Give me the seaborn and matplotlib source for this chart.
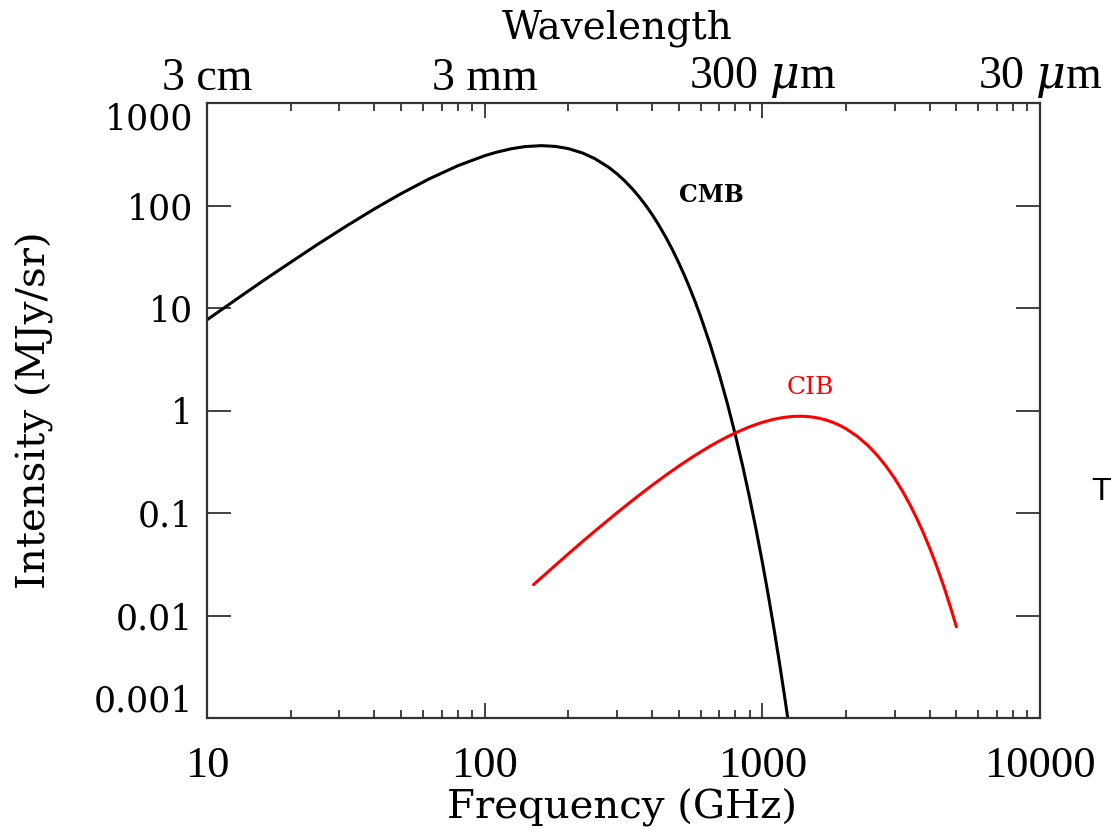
import matplotlib
matplotlib.use("Agg")
import matplotlib.pyplot as plt
from matplotlib.ticker import FixedLocator, FixedFormatter, NullFormatter
import pandas as pd
import seaborn as sns

# CMB spectrum (GHz, MJy/sr)
cmb_freq = [10, 13, 16, 20, 25, 32, 40, 50, 63, 80, 100, 110, 125, 140, 160,
            180, 200, 225, 250, 280, 300, 320, 340, 360, 380, 400, 420, 450,
            475, 500, 525, 550, 575, 600, 650, 700, 750, 800, 850, 900, 950,
            1000, 1050, 1100, 1150, 1200, 1250]
cmb_int = [7.66, 12.6, 18.6, 27.9, 41.7, 63.8, 92.3, 130.5, 181.4, 244.2, 306.0,
           330.4, 358.3, 375.7, 383.7, 377.0, 359.0, 325.6, 285.5, 235.4, 203.1,
           173.1, 145.8, 121.6, 100.5, 82.4, 67.05, 48.6, 36.81, 27.6, 20.59,
           15.25, 11.22, 8.20, 4.324, 2.24, 1.142, 0.574, 0.2856, 0.1405,
           0.06853, 0.0331, 0.0159, 0.00758, 0.00359, 0.00169, 0.000797]

# CIB spectrum (GHz, MJy/sr)
cib_freq = [150, 175, 200, 225, 250, 300, 350, 400, 450, 500, 550, 600, 650,
            700, 750, 800, 900, 1000, 1100, 1200, 1300, 1400, 1500, 1600, 1700,
            1800, 1900, 2000, 2200, 2400, 2600, 2800, 3000, 3200, 3400, 3600,
            3800, 4000, 4250, 4500, 4750, 5000]
cib_int = [0.0200, 0.0290, 0.0399, 0.0526, 0.0670, 0.1008, 0.1406, 0.1855,
           0.2346, 0.2866, 0.3406, 0.3954, 0.4501, 0.5039, 0.5558, 0.6052,
           0.6941, 0.7668, 0.8219, 0.8583, 0.8770, 0.8789, 0.8662, 0.8414,
           0.8066, 0.7642, 0.7160, 0.6649, 0.5585, 0.4558, 0.3627, 0.2826,
           0.2163, 0.1627, 0.1208, 0.0885, 0.0641, 0.0460, 0.0300, 0.0193,
           0.01229, 0.00775]

y_ticks = [1000, 100, 10, 1, 0.1, 0.01, 0.001]
y_labels = ["1000", "100", "10", "1", "0.1", "0.01", "0.001"]
x_ticks = [10, 100, 1000, 10000]
x_labels = ["10", "100", "1000", "10000"]
wl_labels = ["3 cm", "3 mm", r"300 $\mu$m", r"30 $\mu$m"]

sns.set_theme(style="white")
plt.rcParams["font.family"] = ["DejaVu Serif", "DejaVu Sans"]
plt.rcParams["mathtext.fontset"] = "dejavuserif"
plt.rcParams["text.color"] = "black"
plt.rcParams["axes.labelcolor"] = "black"
plt.rcParams["xtick.color"] = "black"
plt.rcParams["ytick.color"] = "black"

fig = plt.figure(figsize=(11.11, 8.32), dpi=100)
ax = fig.add_axes([207 / 1111, 1 - 718 / 832, 833 / 1111, 615 / 832])

cmb = pd.DataFrame({"freq": cmb_freq, "intensity": cmb_int})
cib = pd.DataFrame({"freq": cib_freq, "intensity": cib_int})
sns.lineplot(data=cmb, x="freq", y="intensity", color="black", lw=2.2,
             ax=ax, sort=True)
sns.lineplot(data=cib, x="freq", y="intensity", color="#ff0000", lw=2.2,
             ax=ax, sort=True)

ax.set_xscale("log")
ax.set_yscale("log")
ax.set_xlim(10, 10000)
ax.set_ylim(0.001, 1000)

spine_col = "#333333"
for s in ax.spines.values():
    s.set_visible(True)
    s.set_color(spine_col)
    s.set_linewidth(1.6)

minor_x = [m * 10 ** e for e in range(1, 4) for m in range(2, 10)]

ax.xaxis.set_major_locator(FixedLocator(x_ticks))
ax.xaxis.set_major_formatter(FixedFormatter(x_labels))
ax.xaxis.set_minor_locator(FixedLocator(minor_x))
ax.xaxis.set_minor_formatter(NullFormatter())
ax.yaxis.set_major_locator(FixedLocator(y_ticks))
ax.yaxis.set_major_formatter(FixedFormatter(y_labels))
ax.yaxis.set_minor_locator(FixedLocator([]))

ax.tick_params(axis="x", which="major", direction="in", length=11, width=1.3,
               color=spine_col, labelcolor="black", bottom=True, top=False,
               pad=20, labelsize=32, labelfontfamily="Liberation Serif")
ax.tick_params(axis="x", which="minor", direction="in", length=6, width=1.3,
               color=spine_col, bottom=True, top=False)
ax.tick_params(axis="y", which="major", direction="in", length=17, width=1.3,
               color=spine_col, labelcolor="black", left=True, right=True,
               pad=10, labelsize=25)

# keep the end labels of the intensity axis inside the frame height
yt = ax.yaxis.get_major_ticks()
yt[0].label1.set_va("top")
yt[-1].label1.set_va("bottom")

ax.set_xlabel("Frequency (GHz)", fontsize=29)
ax.xaxis.label.set_va("center")
ax.xaxis.set_label_coords(0.4982, (718 - 808) / 615)
ax.set_ylabel("Intensity (MJy/sr)", fontsize=29)
ax.yaxis.label.set_va("center")
ax.yaxis.set_label_coords((35 - 207) / 833, 0.5)

# Wavelength scale along the top edge
ax2 = ax.twiny()
ax2.set_xscale("log")
ax2.set_xlim(ax.get_xlim())
ax2.xaxis.set_major_locator(FixedLocator(x_ticks))
ax2.xaxis.set_major_formatter(FixedFormatter(wl_labels))
ax2.xaxis.set_minor_locator(FixedLocator(minor_x))
ax2.xaxis.set_minor_formatter(NullFormatter())
ax2.tick_params(axis="x", which="major", direction="in", length=11, width=1.3,
                color=spine_col, labelcolor="black", top=True, bottom=False,
                pad=2, labelsize=33, labelfontfamily="Liberation Serif")
ax2.tick_params(axis="x", which="minor", direction="in", length=6, width=1.3,
                color=spine_col, top=True, bottom=False)
for s in ax2.spines.values():
    s.set_visible(False)
ax2.set_xlabel("Wavelength", fontsize=28)
ax2.xaxis.label.set_va("center")
ax2.xaxis.set_label_coords((617 - 207) / 833, (718 - 28) / 615)

ax.text(658, 126, "CMB", fontsize=17, fontweight="bold", color="black",
        ha="center", va="center")
ax.text(1483, 1.66, "CIB", fontsize=18, color="#ff0000",
        ha="center", va="center")

fig.text(1091 / 1111, 1 - 492 / 832, "T", fontsize=23, family="Liberation Sans",
         ha="left", va="center", color="black")

fig.savefig("out.png", dpi=100, facecolor="white")
